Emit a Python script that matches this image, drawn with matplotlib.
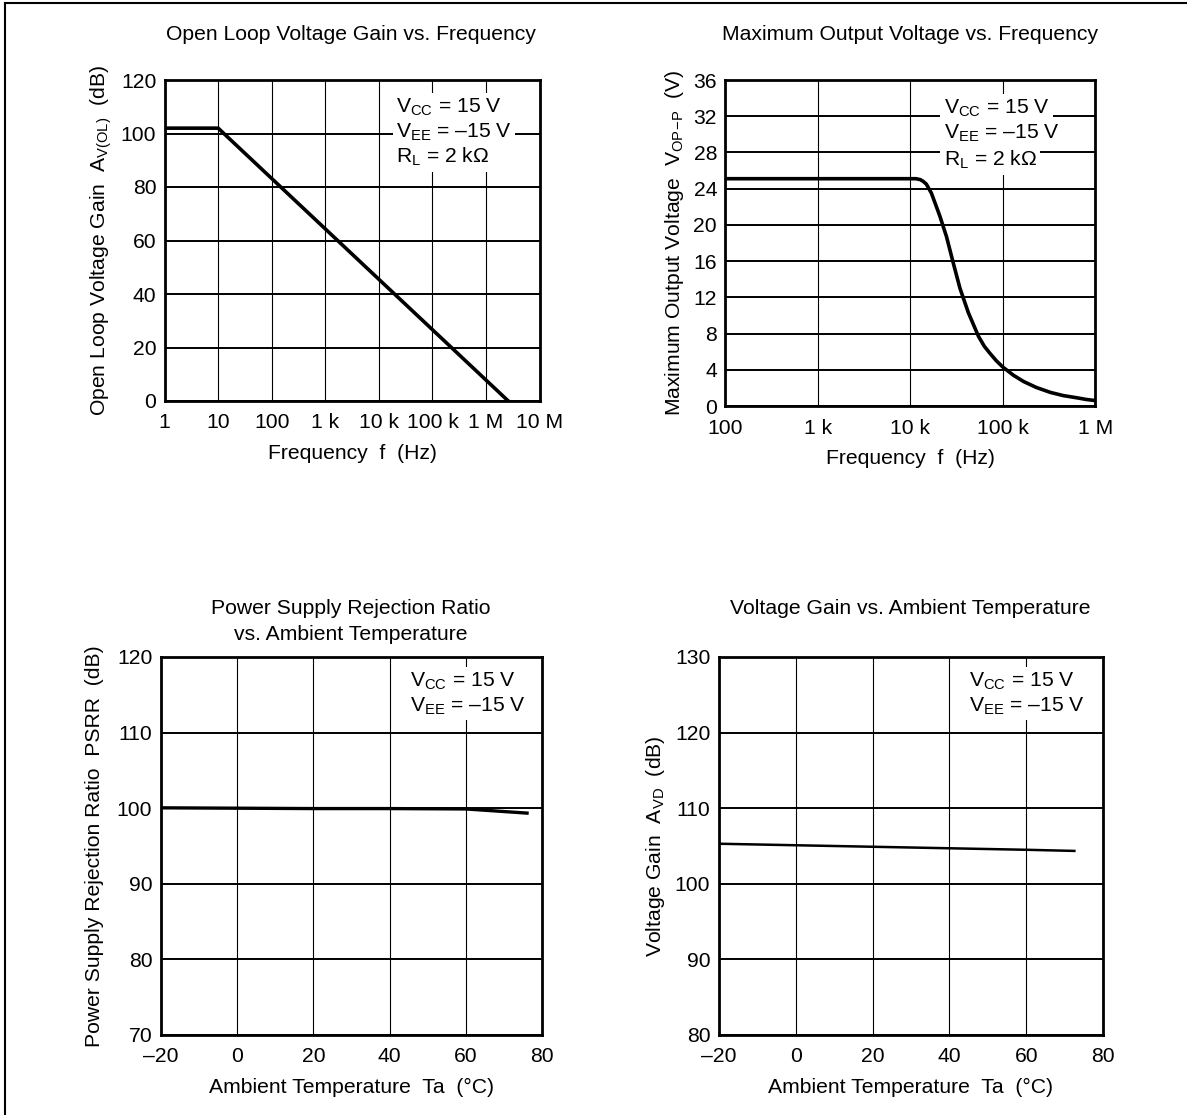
import matplotlib
matplotlib.use("Agg")
import matplotlib.pyplot as plt
from matplotlib.lines import Line2D

plt.rcParams['font.family'] = ['Liberation Sans', 'DejaVu Sans']
plt.rcParams['mathtext.fontset'] = 'custom'
plt.rcParams['mathtext.rm'] = 'Liberation Sans'
plt.rcParams['mathtext.it'] = 'Liberation Sans:italic'
plt.rcParams['mathtext.bf'] = 'Liberation Sans:bold'

# ---------------- data ----------------
# Open loop voltage gain vs frequency
olg_freq = [1, 10, 2.6e6]
olg_gain = [102, 102, 0]
olg_xticks = [1, 10, 100, 1e3, 1e4, 1e5, 1e6, 1e7]
olg_xticklabels = ['1', '10', '100', '1 k', '10 k', '100 k', '1 M', '10 M']
olg_yticks = [0, 20, 40, 60, 80, 100, 120]

# Maximum output voltage vs frequency
mov_freq = [100, 1000, 10000, 11500, 12800, 13800, 14900, 16900, 20800, 24600,
            29100, 34400, 42400, 54500, 63000, 72800, 85000, 100000, 130000,
            168000, 230000, 327000, 450000, 637000, 800000, 1000000]
mov_volt = [25.1, 25.1, 25.1, 25.1, 25.0, 24.8, 24.5, 23.5, 21.0, 18.7,
            15.8, 13.0, 10.3, 7.7, 6.6, 5.8, 5.0, 4.3, 3.4,
            2.7, 2.05, 1.5, 1.15, 0.9, 0.72, 0.6]
mov_xticks = [100, 1e3, 1e4, 1e5, 1e6]
mov_xticklabels = ['100', '1 k', '10 k', '100 k', '1 M']
mov_yticks = [0, 4, 8, 12, 16, 20, 24, 28, 32, 36]

# PSRR vs ambient temperature
psrr_temp = [-20, 0, 20, 40, 60, 76]
psrr_val = [100.05, 100.0, 99.95, 99.95, 99.9, 99.35]
psrr_yticks = [70, 80, 90, 100, 110, 120]

# Voltage gain vs ambient temperature
avd_temp = [-20, 0, 20, 40, 60, 72.5]
avd_val = [105.3, 105.1, 104.9, 104.7, 104.5, 104.35]
avd_yticks = [80, 90, 100, 110, 120, 130]

temp_xticks = [-20, 0, 20, 40, 60, 80]
temp_xticklabels = ['\u201320', '0', '20', '40', '60', '80']

FS = 15.2
W, H = 1187, 1115
fig = plt.figure(figsize=(W / 100, H / 100), dpi=100)


def px_axes(l, t, r, b):
    return fig.add_axes([l / W, 1 - b / H, (r - l) / W, (b - t) / H])


def style(ax):
    for s in ax.spines.values():
        s.set_linewidth(2.0)
        s.set_color('black')
    ax.tick_params(axis='y', length=0, labelsize=FS, pad=6)
    ax.tick_params(axis='x', length=0, labelsize=FS, pad=9)
    ax.grid(axis='y', color='black', lw=1.4)
    ax.grid(axis='x', color='black', lw=0.8)
    ax.set_axisbelow(True)


def note(x, y, s):
    fig.text(x, y, s, fontsize=FS, ha='left', va='center',
             bbox=dict(facecolor='white', edgecolor='none', pad=2.5), zorder=5)


VCC = r'V$_{\mathrm{CC}}$ = 15 V'
VEE = 'V$_{\\mathrm{EE}}$ = \u201315 V'
RL = r'R$_{\mathrm{L}}$ = 2 k$\Omega$'

# ---- top left ----
ax1 = px_axes(164.6, 80, 539.6, 401)
ax1.set_xscale('log')
ax1.set_xlim(1, 1e7)
ax1.set_ylim(0, 120)
ax1.set_xticks(olg_xticks)
ax1.set_xticklabels(olg_xticklabels)
ax1.xaxis.set_minor_locator(matplotlib.ticker.NullLocator())
ax1.set_yticks(olg_yticks)
style(ax1)
ax1.plot(olg_freq, olg_gain, color='black', lw=2.6, zorder=3)
ax1.set_xlabel('Frequency  f  (Hz)', fontsize=FS, labelpad=8)
ax1.set_ylabel(r'Open Loop Voltage Gain  A$_{\mathrm{V(OL)}}$  (dB)', fontsize=FS, labelpad=5)
fig.text(351 / W, 1 - 35 / H, 'Open Loop Voltage Gain vs. Frequency', fontsize=FS,
         ha='center', va='center')
note(396 / W, 1 - 107 / H, VCC)
note(396 / W, 1 - 132 / H, VEE)
note(396 / W, 1 - 157 / H, RL)

# ---- top right ----
ax2 = px_axes(725.4, 80, 1095.3, 406)
ax2.set_xscale('log')
ax2.set_xlim(100, 1e6)
ax2.set_ylim(0, 36)
ax2.set_xticks(mov_xticks)
ax2.set_xticklabels(mov_xticklabels)
ax2.xaxis.set_minor_locator(matplotlib.ticker.NullLocator())
ax2.set_yticks(mov_yticks)
style(ax2)
ax2.plot(mov_freq, mov_volt, color='black', lw=2.6, zorder=3)
ax2.set_xlabel('Frequency  f  (Hz)', fontsize=FS, labelpad=8)
ax2.set_ylabel(r'Maximum Output Voltage  V$_{\mathrm{OP}}$$_{\mathrm{-P}}$  (V)',
               fontsize=FS, labelpad=5)
fig.text(910 / W, 1 - 35 / H, 'Maximum Output Voltage vs. Frequency', fontsize=FS,
         ha='center', va='center')
note(943.7 / W, 1 - 108 / H, VCC)
note(943.7 / W, 1 - 133 / H, VEE)
note(943.7 / W, 1 - 160 / H, RL)

# ---- bottom left ----
ax3 = px_axes(160.7, 657, 542.3, 1035)
ax3.set_xlim(-20, 80)
ax3.set_ylim(70, 120)
ax3.set_xticks(temp_xticks)
ax3.set_xticklabels(temp_xticklabels)
ax3.set_yticks(psrr_yticks)
style(ax3)
ax3.plot(psrr_temp, psrr_val, color='black', lw=2.4, zorder=3)
ax3.set_xlabel('Ambient Temperature  Ta  (\u00b0C)', fontsize=FS, labelpad=8)
ax3.set_ylabel('Power Supply Rejection Ratio  PSRR  (dB)', fontsize=FS, labelpad=9)
fig.text(351 / W, 1 - 608 / H, 'Power Supply Rejection Ratio', fontsize=FS,
         ha='center', va='center')
fig.text(351 / W, 1 - 634 / H, 'vs. Ambient Temperature', fontsize=FS,
         ha='center', va='center')
note(409.5 / W, 1 - 681 / H, VCC)
note(409.5 / W, 1 - 706 / H, VEE)

# ---- bottom right ----
ax4 = px_axes(718.7, 657, 1103.2, 1035)
ax4.set_xlim(-20, 80)
ax4.set_ylim(80, 130)
ax4.set_xticks(temp_xticks)
ax4.set_xticklabels(temp_xticklabels)
ax4.set_yticks(avd_yticks)
style(ax4)
ax4.plot(avd_temp, avd_val, color='black', lw=1.8, zorder=3)
ax4.set_xlabel('Ambient Temperature  Ta  (\u00b0C)', fontsize=FS, labelpad=8)
ax4.set_ylabel(r'Voltage Gain  A$_{\mathrm{VD}}$  (dB)', fontsize=FS, labelpad=6)
fig.text(910.7 / W, 1 - 608 / H, 'Voltage Gain vs. Ambient Temperature', fontsize=FS,
         ha='center', va='center')
note(968.8 / W, 1 - 681 / H, VCC)
note(968.8 / W, 1 - 706 / H, VEE)

# outer frame (left and top edges)
fig.add_artist(Line2D([5 / W, 5 / W], [0, 1 - 3 / H], transform=fig.transFigure,
                      color='black', lw=1.5))
fig.add_artist(Line2D([5 / W, 1], [1 - 3 / H, 1 - 3 / H], transform=fig.transFigure,
                      color='black', lw=1.5))

fig.savefig('out.png', dpi=100)
